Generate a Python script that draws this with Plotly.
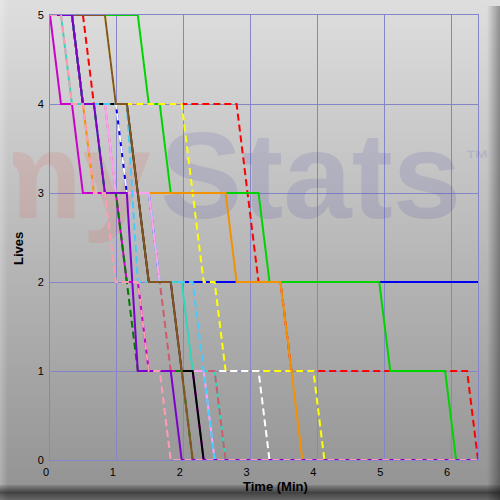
import base64
import plotly.graph_objects as go

# ---------------- data ----------------
# time between two samples of the lives counter, in minutes
SAMPLE_MIN = 0.1642
N_SAMPLES = 40           # sample indices 0 .. 39
X_MAX = 6.403

# sample index at which each life was lost (5 lives per player)
deaths_red       = [4, 18, 19, 22, 39]
deaths_blue      = [3, 7, 10]
deaths_green     = [9, 11, 20, 31, 37]
deaths_yellow    = [6, 13, 14, 16, 25]
deaths_white     = [6, 7, 10, 12, 20]
deaths_turquoise = [2, 5, 10, 13, 16]
deaths_salmon    = [3, 6, 9, 11, 16]
deaths_orange    = [3, 4, 17, 22, 23]
deaths_magenta   = [1, 3, 7, 9, 14]
deaths_violet    = [3, 6, 10, 12, 15]
deaths_black     = [3, 8, 9, 12, 14]
deaths_dkgreen   = [3, 5, 7, 8, 13]
deaths_cyan      = [3, 8, 8, 14, 15]
deaths_brown     = [6, 8, 9, 12, 13]
deaths_purple    = [3, 5, 8, 8, 12]
deaths_pink      = [2, 4, 6, 9, 11]

x_ticks = [0, 1, 2, 3, 4, 5, 6]
y_ticks = [0, 1, 2, 3, 4, 5]

# draw order: first = bottom
players = [
    ("Red", deaths_red, "#ff0000", "dash"),
    ("Blue", deaths_blue, "#0000f0", "solid"),
    ("Green", deaths_green, "#00d400", "solid"),
    ("Yellow", deaths_yellow, "#ffff00", "dash"),
    ("White", deaths_white, "#ffffff", "dash"),
    ("Turquoise", deaths_turquoise, "#33d6bb", "solid"),
    ("Salmon", deaths_salmon, "#cd5c6a", "dash"),
    ("Orange", deaths_orange, "#f39200", "solid"),
    ("Magenta", deaths_magenta, "#cc00cc", "solid"),
    ("Violet", deaths_violet, "#ffa0f4", "solid"),
    ("Black", deaths_black, "#000000", "solid"),
    ("DarkGreen", deaths_dkgreen, "#007a00", "dash"),
    ("Cyan", deaths_cyan, "#44ccff", "dash"),
    ("Brown", deaths_brown, "#82571f", "solid"),
    ("Purple", deaths_purple, "#7f00cc", "solid"),
    ("Pink", deaths_pink, "#ff9cb4", "dash"),
]

sample_minutes = [i * SAMPLE_MIN for i in range(N_SAMPLES)]

fig = go.Figure()

# watermark (drawn first so the lines sit over it)
wm_font = dict(family="Liberation Sans, Arial", size=123, weight="bold")
fig.add_trace(go.Scatter(
    x=[0.175], y=[3.065], mode="text", cliponaxis=False, hoverinfo="skip",
    text=["my"], textposition="middle center",
    textfont=dict(wm_font, color="rgba(235,70,70,0.13)"), showlegend=False,
))
fig.add_trace(go.Scatter(
    x=[3.90], y=[3.065], mode="text", cliponaxis=False, hoverinfo="skip",
    text=["Stats"], textposition="middle center",
    textfont=dict(wm_font, color="rgba(70,70,170,0.15)"), showlegend=False,
))
fig.add_trace(go.Scatter(
    x=[6.40], y=[3.36], mode="text", cliponaxis=False, hoverinfo="skip",
    text=["™"], textposition="middle center",
    textfont=dict(family="Liberation Sans, Arial", size=24, weight="bold",
                  color="rgba(70,70,170,0.15)"),
    showlegend=False,
))

for name, deaths, color, dash in players:
    lives = [5 - sum(1 for d in deaths if d <= i) for i in range(N_SAMPLES)]
    fig.add_trace(go.Scatter(
        x=sample_minutes, y=lives, mode="lines", name=name, cliponaxis=False,
        line=dict(color=color, width=2, dash="7px,4px" if dash == "dash" else "solid"),
        hoverinfo="skip", showlegend=False,
    ))

# background (gradient frame with bevel) as inline svg images
GRAD = ("<linearGradient id='g' x1='0' y1='0' x2='0' y2='1'>"
        "<stop offset='0' stop-color='#dedede'/><stop offset='1' stop-color='#929292'/>"
        "</linearGradient>"
        "<linearGradient id='l' x1='0' y1='0' x2='1' y2='0'>"
        "<stop offset='0' stop-color='#fff' stop-opacity='0.25'/>"
        "<stop offset='1' stop-color='#fff' stop-opacity='0'/></linearGradient>"
        "<linearGradient id='b' x1='0' y1='0' x2='0' y2='1'>"
        "<stop offset='0' stop-color='#000' stop-opacity='0.1'/>"
        "<stop offset='0.5' stop-color='#000' stop-opacity='0.55'/>"
        "<stop offset='1' stop-color='#000' stop-opacity='0.3'/></linearGradient>")
svg = f"""<svg xmlns='http://www.w3.org/2000/svg' width='500' height='500'>
<defs>{GRAD}
<linearGradient id='r' x1='0' y1='0' x2='1' y2='0'>
<stop offset='0' stop-color='#000' stop-opacity='0'/><stop offset='1' stop-color='#000' stop-opacity='0.35'/></linearGradient>
</defs>
<rect width='500' height='500' fill='url(#g)'/>
<rect x='0' y='0' width='8' height='500' fill='url(#l)'/>
<rect x='487' y='6' width='13' height='494' fill='url(#r)'/>
<rect x='0' y='485' width='500' height='15' fill='url(#b)'/>
</svg>"""
# left strip of the frame, laid over the watermark so it is cut at the frame edge
strip = f"""<svg xmlns='http://www.w3.org/2000/svg' width='13' height='500' preserveAspectRatio='none'>
<defs>{GRAD}</defs>
<rect width='13' height='500' fill='url(#g)'/>
<rect x='0' y='0' width='8' height='500' fill='url(#l)'/>
<rect x='0' y='485' width='13' height='15' fill='url(#b)'/>
</svg>"""


def data_uri(s):
    return "data:image/svg+xml;base64," + base64.b64encode(s.encode()).decode()


L, R, T, B = 50, 22, 15, 40
PW, PH = 500 - L - R, 500 - T - B

fig.add_layout_image(dict(
    source=data_uri(svg), xref="paper", yref="paper", x=-L / PW, y=1 + T / PH,
    sizex=500 / PW, sizey=500 / PH, xanchor="left", yanchor="top",
    sizing="stretch", layer="below",
))
fig.add_layout_image(dict(
    source=data_uri(strip), xref="paper", yref="paper", x=-L / PW, y=1 + T / PH,
    sizex=13 / PW, sizey=500 / PH, xanchor="left", yanchor="top",
    sizing="stretch", layer="above",
))

grid = "#8585c8"
fig.update_layout(
    width=500, height=500, margin=dict(l=L, r=R, t=T, b=B, autoexpand=False),
    paper_bgcolor="#b8b8b8", plot_bgcolor="rgba(0,0,0,0)",
    font=dict(family="Liberation Sans, Arial", size=11, color="#000000"),
    hovermode=False, showlegend=False,
    xaxis=dict(range=[0, X_MAX], tickvals=x_ticks, ticktext=[str(v) for v in x_ticks],
               showgrid=True, gridcolor=grid, gridwidth=1, zeroline=False,
               showline=True, mirror=True, linecolor=grid, linewidth=1,
               ticks="", ticklabelshift=-4, ticklabelstandoff=2, layer="below traces",
               automargin=False, tickfont=dict(size=11)),
    yaxis=dict(range=[0, 5], tickvals=y_ticks, ticktext=[str(v) for v in y_ticks],
               showgrid=True, gridcolor=grid, gridwidth=1, zeroline=False,
               showline=True, mirror=True, linecolor=grid, linewidth=1,
               ticks="", ticklabelstandoff=3, layer="below traces",
               automargin=False, tickfont=dict(size=11)),
    annotations=[
        dict(text="<b>Lives</b>", xref="paper", yref="paper",
             x=(18 - L) / PW, y=(460 - 249) / PH, showarrow=False, textangle=-90,
             font=dict(size=13, color="#000000"), xanchor="center", yanchor="middle"),
        dict(text="<b>Time (Min)</b>", xref="paper", yref="paper",
             x=(275 - L) / PW, y=(460 - 486) / PH, showarrow=False,
             font=dict(size=13, color="#000000"), xanchor="center", yanchor="middle"),
    ],
)

fig.write_html(
    "out.html",
    config={"displayModeBar": False, "staticPlot": True},
    post_script="document.body.style.margin='0';document.body.style.padding='0';"
                "document.documentElement.style.overflow='hidden';",
)
